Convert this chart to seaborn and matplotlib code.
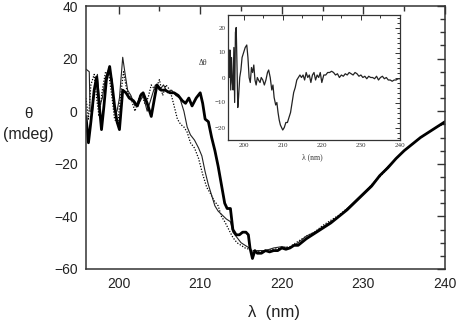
import numpy as np
import pandas as pd
import matplotlib
matplotlib.use("Agg")
import matplotlib.pyplot as plt
from matplotlib.ticker import MultipleLocator
import seaborn as sns

# ---- data ----
wl_thick = [196.0,196.3,196.6,197.0,197.3,197.6,197.9,198.2,198.5,198.9,199.2,199.5,199.8,200.1,200.5,200.9,
            201.3,201.8,202.3,202.7,203.0,203.5,204.0,204.4,204.7,205.2,205.7,206.3,206.8,207.3,207.8,208.2,
            208.6,209.0,209.5,210.0,210.3,210.6,211.0,211.4,211.8,212.2,212.6,213.0,213.3,213.7,214.0,214.4,
            214.8,215.2,215.6,215.9,216.1,216.4,216.7,217.0,217.5,218.0,218.5,219.0,219.5,220.0,220.5,221.0,
            221.5,222.0,223.0,224.0,225.0,226.0,227.0,228.0,229.0,230.0,231.0,232.0,233.0,234.0,235.0,236.0,
            237.0,238.0,239.0,240.0]
theta_thick = [-2,-12,-4,8,13,3,-7,2,12,17,10,2,-4,-7,8,7,
               5,4,2,6,7,3,-2,5,10,8,8,7,7,6,4,3,
               5,2,5,7,3,-3,-4,-10,-15,-21,-28,-35,-37,-37,-45,-47,
               -47,-46,-46,-47,-52,-56,-53,-54,-54,-53,-53.5,-53,-53,-52,-52.5,-52,
               -51,-51,-48.5,-46.5,-44.5,-42.5,-40,-37.5,-34.5,-31.5,-28.5,-24.5,-21.5,-18,-15,-12.5,
               -10,-8,-6,-4]

wl_thin = [196.0,196.4,196.5,196.8,197.1,197.4,197.7,198.0,198.4,198.8,199.2,199.5,199.8,200.1,200.5,200.8,
           201.1,201.5,202.0,202.5,203.0,203.5,204.0,204.5,205.0,205.5,206.0,206.5,207.0,207.5,208.0,208.4,
           208.8,209.3,209.8,210.2,210.6,211.0,211.4,211.8,212.2,212.7,213.2,213.7,214.0,214.5,215.0,215.5,
           216.0,216.5,217.0,218.0,219.0,220.0,221.0,222.0,223.0,224.0,225.0,226.0,227.0,228.0,229.0,230.0,
           231.0,232.0,233.0,234.0,235.0,236.0,237.0,238.0,239.0,240.0]
theta_thin = [16,15,0,0,10,14,2,5,13,16,12,0,0,5,20.5,14,
              8,6,2,3,6,0,5,10,8,10,7,8,6,5,0,-6,
              -9,-11,-14,-17,-23,-28,-32,-36,-38,-39.5,-41,-42,-46,-48,-50,-51,
              -52,-54,-53,-53,-52,-51.5,-52,-50,-47.5,-46,-44,-42,-40,-37,-34,-31,
              -28,-24.5,-21,-18,-15,-12.5,-10,-8,-6,-4.5]

wl_dot = [196.0,196.3,196.6,197.0,197.3,197.6,198.0,198.4,198.8,199.2,199.5,199.9,200.2,200.6,201.0,201.5,
          202.0,202.4,202.8,203.2,203.6,204.0,204.5,205.0,205.4,205.8,206.3,206.8,207.2,207.6,208.0,208.4,
          208.8,209.3,209.8,210.3,210.8,211.2,211.7,212.2,212.6,213.0,213.5,214.0,214.5,215.0,215.5,216.0,
          216.5,217.0,218.0,219.0,220.0,221.0,222.0,223.0,224.0,225.0,226.0,227.0,228.0,229.0,230.0,231.0,
          232.0,233.0,234.0,235.0,236.0,237.0,238.0,239.0,240.0]
theta_dot = [5,-3,10,14,5,-2,8,15,14,5,-3,-5,5,15,8,5,
             0,4,7,3,5,10,8,12,6,10,8,2,-3,-5,-6,-8,
             -12,-14,-18,-24,-29,-31,-34,-36,-40,-42,-45,-48,-50,-51,-52,-52.5,
             -53,-53.5,-53,-52.5,-52,-51.5,-49.5,-47.5,-46,-43.5,-41.5,-39.5,-37,-34.5,-31.5,-28,
             -25,-21.5,-18,-15,-12.5,-10,-8,-6,-4.5]

wl_diff = [196.2,196.4,196.5,196.7,196.9,197.1,197.3,197.5,197.7,197.9,198.1,198.3,198.5,198.7,199.0,199.3,
           199.6,200.0,200.4,200.8,201.1,201.4,201.7,202.0,202.3,202.6,202.9,203.2,203.5,203.8,204.2,204.5,
           204.9,205.3,205.7,206.1,206.4,206.8,207.2,207.5,207.8,208.2,208.5,208.8,209.1,209.4,209.7,210.0,
           210.4,210.8,211.2,211.6,212.0,212.4,212.8,213.2,213.6,214.0,214.4,214.8,215.2,215.6,216.0,216.4,
           216.8,217.2,217.6,218.0,218.4,218.8,219.2,219.6,220.0,220.5,221.0,221.5,222.0,222.5,223.0,223.5,
           224.0,224.5,225.0,225.5,226.0,226.5,227.0,227.5,228.0,228.5,229.0,229.5,230.0,230.5,231.0,231.5,
           232.0,232.5,233.0,233.5,234.0,234.5,235.0,235.5,236.0,236.5,237.0,237.5,238.0,238.5,239.0,239.5,
           240.0]
delta_theta = [11,0,11,-5,8,-2,-5,12,-10,18,20,5,-12,-8,0,3,
               8,10,12,13,8,0,-2,4,2,5,-1,-3,0,-1,-2,0,
               -1,-3,-1,2,3,0,-5,-3,-8,-11,-10,-14,-17,-19,-20,-21,
               -20,-18,-18,-16,-14,-10,-6,-4,-1,0,1,0,1,-1,2,0,
               1,-2,1,2,-1,1,0,2,-2,1,1,2,2,2.5,2,1,
               1.5,0,1,0.5,1.5,1,2,1.5,1,2,1.5,0.5,1,0,0.5,-0.5,
               0.5,0,0,-0.5,0.5,-1,0,0.5,-0.5,0,-1,-1,-1.5,-1,-1,-0.5,
               -0.5]

main_xticks = [200, 210, 220, 230, 240]
main_yticks = [-60, -40, -20, 0, 20, 40]
inset_xticks = [200, 210, 220, 230, 240]
inset_yticks = [-20, -10, 0, 10, 20]

# ---- figure ----
sns.set_theme(style="white")
plt.rcParams['font.family'] = ['Liberation Sans', 'DejaVu Sans']

W, H = 457, 324
fig = plt.figure(figsize=(W / 100, H / 100), dpi=100)
fig.patch.set_facecolor("white")

def fx(px):
    return px / W
def fy(py):
    return 1 - py / H

ax = fig.add_axes([fx(86), fy(269), fx(445) - fx(86), fy(6) - fy(269)])
ax.set_facecolor("white")

sns.lineplot(x=wl_dot, y=theta_dot, ax=ax, color="black", linewidth=0.9,
             linestyle=(0, (1, 1.3)), estimator=None, sort=False)
sns.lineplot(x=wl_thin, y=theta_thin, ax=ax, color="#222222", linewidth=0.8,
             estimator=None, sort=False)
sns.lineplot(x=wl_thick, y=theta_thick, ax=ax, color="black", linewidth=2.0,
             estimator=None, sort=False)

ax.set_xlim(196, 240)
ax.set_ylim(-60, 40)
ax.set_xticks(main_xticks)
ax.set_yticks(main_yticks)
ax.xaxis.set_minor_locator(MultipleLocator(5))
ax.yaxis.set_minor_locator(MultipleLocator(5))
ax.tick_params(which="both", direction="in", top=True, right=True, color="#333333",
               labelsize=10, labelcolor="#222222", width=1.0)
ax.tick_params(which="major", length=6, pad=6)
ax.tick_params(which="minor", length=3.5)
for s in ax.spines.values():
    s.set_color("#333333")
    s.set_linewidth(1.1)
ax.set_xlabel("")
ax.set_ylabel("")

fig.text(fx(28), fy(114), "θ", ha="center", va="center", fontsize=11, color="#222222")
fig.text(fx(28), fy(134), "(mdeg)", ha="center", va="center", fontsize=11.5, color="#222222")
fig.text(fx(274), fy(312), "λ  (nm)", ha="center", va="center", fontsize=12, color="#222222")

# ---- inset ----
ins = fig.add_axes([fx(228), fy(140), fx(400) - fx(228), fy(15) - fy(140)])
ins.set_facecolor("white")
sns.lineplot(x=wl_diff, y=delta_theta, ax=ins, color="#222222", linewidth=0.9,
             estimator=None, sort=False)
ins.set_xlim(196, 240)
ins.set_ylim(-25, 25)
ins.set_xticks(inset_xticks)
ins.set_yticks(inset_yticks)
ins.xaxis.set_minor_locator(MultipleLocator(5))
ins.yaxis.set_minor_locator(MultipleLocator(2))
ins.tick_params(which="both", direction="in", top=True, right=True, color="#333333",
                width=0.7)
ins.tick_params(which="major", length=3.5, pad=2, labelsize=5,
                labelcolor="#333333", labelfontfamily="Liberation Serif")
ins.tick_params(which="minor", length=2)
for s in ins.spines.values():
    s.set_color("#333333")
    s.set_linewidth(0.9)
ins.set_xlabel("")
ins.set_ylabel("")
fig.text(fx(203), fy(63), "Δθ", ha="center", va="center", fontsize=5.5,
         color="#333333", family=["Liberation Serif", "DejaVu Serif"])
fig.text(fx(312), fy(157), "λ (nm)", ha="center", va="center", fontsize=5.5,
         color="#333333", family=["Liberation Serif", "DejaVu Serif"])

fig.savefig("out.png", dpi=100, facecolor="white")
